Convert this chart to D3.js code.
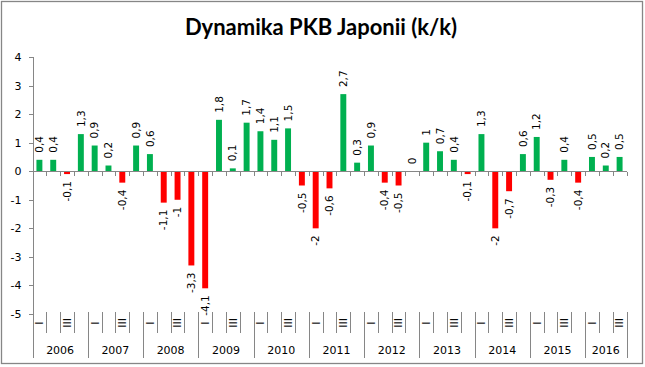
<html>
<head>
<title>Dynamika PKB Japonii</title>
<style>
body { margin: 0; background: #fff; }
#chart { display: block; }
svg text { font-family: 'DejaVu Sans', sans-serif; fill: #000; }
svg .title { font-family: Lato, 'Open Sans', sans-serif; font-weight: bold; font-size: 22px; }
svg .axis path, svg .axis line, svg .sep { stroke: #868686; shape-rendering: crispEdges; }
</style>
</head>
<body>
<svg id='chart' width='645' height='367'></svg>
<script src='https://cdn.jsdelivr.net/npm/d3@7'></script>
<script>
// quarterly change of GDP, % q/q
const years = ['2006', '2007', '2008', '2009', '2010', '2011', '2012', '2013', '2014', '2015', '2016'];
const quarterNames = ['I', 'II', 'III', 'IV'];
const values = [
  0.4, 0.4, -0.1, 1.3,
  0.9, 0.2, -0.4, 0.9,
  0.6, -1.1, -1, -3.3,
  -4.1, 1.8, 0.1, 1.7,
  1.4, 1.1, 1.5, -0.5,
  -2, -0.6, 2.7, 0.3,
  0.9, -0.4, -0.5, 0,
  1, 0.7, 0.4, -0.1,
  1.3, -2, -0.7, 0.6,
  1.2, -0.3, 0.4, -0.4,
  0.5, 0.2, 0.5
];
const yTicks = [-5, -4, -3, -2, -1, 0, 1, 2, 3, 4];

// build category list (year, quarter)
const cats = values.map((v, i) => ({
  i: i,
  year: years[Math.floor(i / 4)],
  q: quarterNames[i % 4],
  v: v
}));

const svg = d3.select('#chart');
const plotLeft = 32.5, plotRight = 626.5, plotTop = 57, plotBottom = 314;

const x = d3.scaleBand().domain(cats.map(d => d.i)).range([plotLeft, plotRight]).padding(0);
const y = d3.scaleLinear().domain([-5, 4]).range([plotBottom, plotTop]);
const barW = x.bandwidth() * 0.43;
const y0 = Math.round(y(0)) + 0.5;

// outer border
svg.append('rect')
  .attr('x', 1.5).attr('y', 1.5)
  .attr('width', 641).attr('height', 362)
  .attr('fill', '#fff')
  .attr('stroke', '#868686')
  .attr('stroke-width', 1.3);

svg.append('text')
  .attr('class', 'title')
  .attr('x', 321).attr('y', 35)
  .attr('text-anchor', 'middle')
  .text('Dynamika PKB Japonii (k/k)');

// y axis
const yAxis = svg.append('g')
  .attr('class', 'axis')
  .attr('transform', `translate(${plotLeft},0)`)
  .call(d3.axisLeft(y).tickValues(yTicks).tickSize(4).tickPadding(7).tickFormat(d => String(d)));
yAxis.selectAll('text').style('font-size', '11px');

// bars
svg.append('g').selectAll('rect')
  .data(cats)
  .join('rect')
  .attr('x', d => x(d.i) + x.bandwidth() / 2 - barW / 2)
  .attr('y', d => y(Math.max(0, d.v)))
  .attr('width', barW)
  .attr('height', d => Math.abs(y(d.v) - y(0)))
  .attr('fill', d => d.v >= 0 ? '#00b050' : '#ff0000');

// category axis crossing at zero
const boundaries = d3.range(cats.length + 1).map(k => plotLeft + k * x.step());
svg.append('line')
  .attr('class', 'sep')
  .attr('x1', plotLeft).attr('x2', plotRight)
  .attr('y1', y0).attr('y2', y0);
svg.append('g').selectAll('line')
  .data(boundaries)
  .join('line')
  .attr('class', 'sep')
  .attr('x1', d => Math.round(d) + 0.5).attr('x2', d => Math.round(d) + 0.5)
  .attr('y1', y0).attr('y2', y0 + 4);

// data labels, rotated
svg.append('g').selectAll('text')
  .data(cats)
  .join('text')
  .attr('transform', d => {
    const cx = x(d.i) + x.bandwidth() / 2;
    const cy = d.v >= 0 ? y(d.v) - 7 : y(d.v) + 7;
    return `translate(${cx},${cy}) rotate(-90)`;
  })
  .attr('dy', '0.35em')
  .attr('text-anchor', d => d.v >= 0 ? 'start' : 'end')
  .style('font-size', '10.5px')
  .text(d => String(d.v).replace('.', ','));

// multi level labels at the bottom
svg.append('g').selectAll('line')
  .data(boundaries)
  .join('line')
  .attr('class', 'sep')
  .attr('x1', d => Math.round(d) + 0.5).attr('x2', d => Math.round(d) + 0.5)
  .attr('y1', 312)
  .attr('y2', (d, k) => (k % 4 === 0 || k === cats.length) ? 358 : 333);

svg.append('g').selectAll('text')
  .data(cats.filter(d => d.q === 'I' || d.q === 'III'))
  .join('text')
  .attr('transform', d => `translate(${x(d.i) + x.bandwidth() / 2},323) rotate(-90)`)
  .attr('dy', '0.35em')
  .attr('text-anchor', 'middle')
  .style('font-size', '11px')
  .text(d => d.q);

svg.append('g').selectAll('text')
  .data(years)
  .join('text')
  .attr('x', (yr, k) => {
    const a = plotLeft + k * 4 * x.step();
    const b = Math.min(plotRight, a + 4 * x.step());
    return (a + b) / 2;
  })
  .attr('y', 354)
  .attr('text-anchor', 'middle')
  .style('font-size', '11px')
  .text(yr => yr);
</script>
</body>
</html>
